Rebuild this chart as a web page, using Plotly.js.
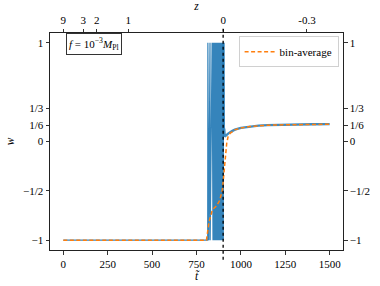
<!DOCTYPE html>
<html>
<head>
<meta charset="utf-8">
<script src="https://cdn.plot.ly/plotly-3.0.1.min.js"></script>
<style>html,body{margin:0;padding:0;background:#fff;}#plot{width:380px;height:286px;}</style>
</head>
<body>
<div id="plot"></div>
<script>
// raw w(t) series (blue), part 1: flat then oscillating between -1 and 1
const oscT = [0, 813,
  814, 815, 818, 819, 826, 827,
  838, 839, 840, 841, 842, 843,
  844, 845, 846, 847, 848, 849, 850, 851, 852, 853, 854, 855, 856, 857, 858, 859,
  860, 861, 862, 863, 864, 865, 866, 867, 868, 869, 870, 871, 872, 873, 874, 875,
  876, 877, 878, 879, 880, 881, 882, 883, 884, 885, 886, 887, 888, 889, 890, 891,
  892, 893, 894, 895, 896, 897, 898, 899, 900, 901, 902];
const oscW = [-1, -1,
  1, -1, 1, -1, 1, -1,
  1, -1, 1, -1, 1, -1,
  1, -1, 1, -1, 1, -1, 1, -1, 1, -1, 1, -1, 1, -1, 1, -1,
  1, -1, 1, -1, 1, -1, 1, -1, 1, -1, 1, -1, 1, -1, 1, -1,
  1, -1, 1, -1, 1, -1, 1, -1, 1, -1, 1, -1, 1, -1, 1, -1,
  1, -1, 1, -1, 1, -1, 1, -1, 1, -1, 1];
// raw w(t) series (blue), part 2: relaxation toward ~1/6
const relaxT = [903, 904, 906, 909, 915, 928, 950, 966, 1000, 1050, 1100, 1150, 1200, 1300, 1400, 1500];
const relaxW = [0.56, 0.10, 0.13, 0.05, 0.06, 0.08, 0.105, 0.12, 0.138, 0.153, 0.161, 0.166, 0.169, 0.173, 0.175, 0.176];

// bin-average (orange dashed)
const avgT = [0, 806, 821, 840, 862, 880, 896, 910, 920, 928, 940, 966, 1000, 1050, 1100, 1150, 1200, 1300, 1400, 1500];
const avgW = [-1, -1, -0.81, -0.69, -0.655, -0.6, -0.49, -0.2, -0.02, 0.05, 0.085, 0.118, 0.137, 0.152, 0.16, 0.165, 0.168, 0.172, 0.174, 0.175];

// axis ticks
const tTicks = [0, 250, 500, 750, 1000, 1250, 1500];
const tLabels = ['0', '250', '500', '750', '1000', '1250', '1500'];
const wTicks = [-1, -0.5, 0, 1/6, 1/3, 1];
const wLabels = ['\u22121', '\u22121/2', '0', '1/6', '1/3', '1'];
const zTickPos = [0, 112, 188, 366, 900, 1372];
const zLabels = ['9', '3', '2', '1', '0', '-0.3'];
const transitionT = 900;

const FONT = 'Liberation Serif, DejaVu Serif, serif';
const xr = [-75, 1575], yr = [-1.1, 1.1];
const BLUE = '#1f77b4';

const traces = [
  {x: oscT, y: oscW, type: 'scatter', mode: 'lines', line: {color: BLUE, width: 1.2}, opacity: 0.9, showlegend: false, hoverinfo: 'skip'},
  {x: [oscT[oscT.length - 1]].concat(relaxT), y: [oscW[oscW.length - 1]].concat(relaxW), type: 'scatter', mode: 'lines', line: {color: BLUE, width: 2.4}, opacity: 0.85, showlegend: false, hoverinfo: 'skip'},
  {x: avgT, y: avgW, type: 'scatter', mode: 'lines', name: 'bin-average', line: {color: '#ff7f0e', width: 1.5, dash: '4px,2.5px'}},
  {x: [null], y: [null], xaxis: 'x2', yaxis: 'y2', type: 'scatter', mode: 'lines', showlegend: false}
];

const axCommon = {ticks: 'outside', ticklen: 3.5, tickwidth: 0.8, tickcolor: '#000', showline: true, linecolor: '#222', linewidth: 1, showgrid: false, zeroline: false, tickfont: {family: FONT, size: 11, color: '#000'}};

const layout = {
  width: 380, height: 286,
  margin: {l: 50, r: 37, t: 33, b: 36},
  paper_bgcolor: '#fff', plot_bgcolor: '#fff',
  font: {family: FONT, size: 11, color: '#000'},
  xaxis: Object.assign({}, axCommon, {range: xr, tickvals: tTicks, ticktext: tLabels, title: {text: '<i>t\u0303</i>', font: {family: FONT, size: 11.5}, standoff: 1}}),
  yaxis: Object.assign({}, axCommon, {range: yr, tickvals: wTicks, ticktext: wLabels, title: {text: '<i>w</i>', font: {family: FONT, size: 11.5}, standoff: 6}}),
  xaxis2: Object.assign({}, axCommon, {range: xr, overlaying: 'x', side: 'top', anchor: 'y', tickvals: zTickPos, ticktext: zLabels, title: {text: '<i>z</i>', font: {family: FONT, size: 11.5}, standoff: 2}}),
  yaxis2: Object.assign({}, axCommon, {range: yr, overlaying: 'y', side: 'right', anchor: 'x', tickvals: wTicks, ticktext: wLabels}),
  legend: {x: 0.985, y: 0.985, xanchor: 'right', yanchor: 'top', bordercolor: '#d0d0d0', borderwidth: 1, bgcolor: 'rgba(255,255,255,0.8)', font: {family: FONT, size: 11}},
  shapes: [{type: 'line', xref: 'x', yref: 'paper', x0: transitionT, x1: transitionT, y0: -0.045, y1: 1.02, line: {color: '#000', width: 1.3, dash: 'dot'}}],
  annotations: [{xref: 'paper', yref: 'paper', x: 0.15, y: 0.949, xanchor: 'center', yanchor: 'middle', showarrow: false,
    text: '<i>f</i> = 10<sup>\u22123</sup><i>M</i><sub>Pl</sub>', font: {family: FONT, size: 11}, bordercolor: '#333', borderwidth: 1, borderpad: 2, bgcolor: '#fff'}]
};

Plotly.newPlot('plot', traces, layout, {staticPlot: true, displayModeBar: false});
</script>
</body>
</html>
